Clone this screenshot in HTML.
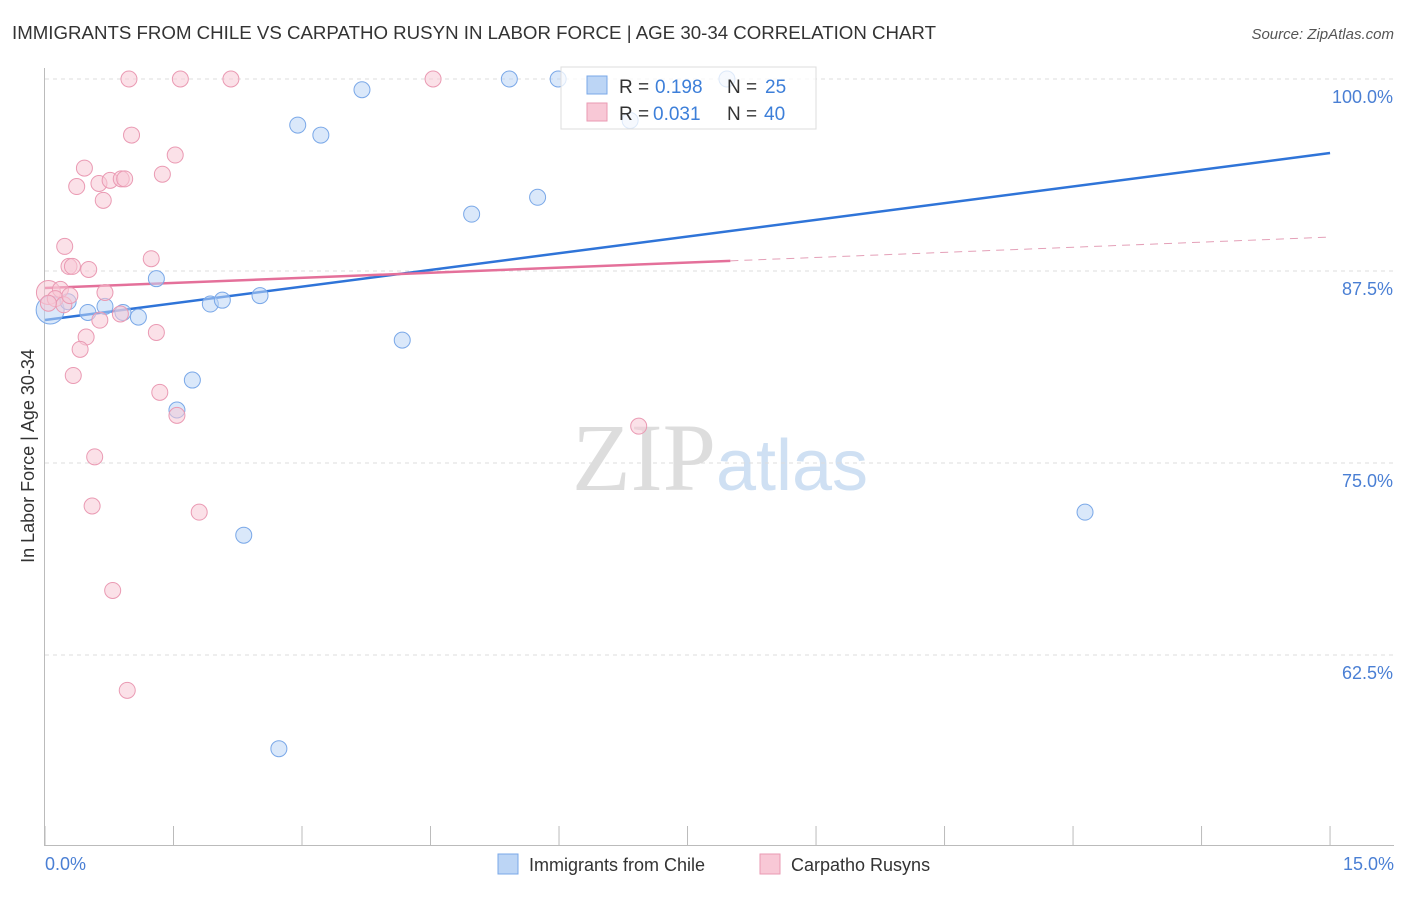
<!DOCTYPE html>
<html><head><meta charset="utf-8"><style>
body{margin:0;background:#fff;font-family:"Liberation Sans",sans-serif;}
svg text{font-family:"Liberation Sans",sans-serif;}
</style></head><body>
<svg id="chart" width="1406" height="892" xmlns="http://www.w3.org/2000/svg">
<text x="12" y="39" font-size="18" fill="#333" textLength="924" lengthAdjust="spacingAndGlyphs">IMMIGRANTS FROM CHILE VS CARPATHO RUSYN IN LABOR FORCE | AGE 30-34 CORRELATION CHART</text>
<text x="1394" y="39" font-size="15" fill="#555" text-anchor="end" font-style="italic">Source: ZipAtlas.com</text>
<text x="720" y="490" font-size="96" text-anchor="middle"><tspan fill="#ddd" font-family="Liberation Serif">ZIP</tspan><tspan fill="#cfe0f3" font-size="72">atlas</tspan></text>
<g id="grid"></g><g id="axes"></g><g id="lines"></g><g id="pts"></g>
<text transform="translate(34,456) rotate(-90)" font-size="18" fill="#333" text-anchor="middle">In Labor Force | Age 30-34</text>
<text x="45" y="870" font-size="18" fill="#4a7fd4">0.0%</text>
<text x="1394" y="870" font-size="18" fill="#4a7fd4" text-anchor="end">15.0%</text>
<g>
<rect x="561" y="67" width="255" height="62" fill="#fff" fill-opacity="0.75" stroke="#ddd"/>
<rect x="587" y="76" width="20" height="18" fill="#bcd5f5" stroke="#7aa8e8"/>
<rect x="587" y="103" width="20" height="18" fill="#f8c8d6" stroke="#ea9ab3"/>
<text x="619" y="93" font-size="19" fill="#333">R =</text><text x="655" y="93" font-size="19" fill="#3d7fd9">0.198</text>
<text x="727" y="93" font-size="19" fill="#333">N =</text><text x="765" y="93" font-size="19" fill="#3d7fd9">25</text>
<text x="619" y="120" font-size="19" fill="#333">R =</text><text x="653" y="120" font-size="19" fill="#3d7fd9">0.031</text>
<text x="727" y="120" font-size="19" fill="#333">N =</text><text x="764" y="120" font-size="19" fill="#3d7fd9">40</text>
</g>
<g>
<rect x="498" y="854" width="20" height="20" fill="#bcd5f5" stroke="#7aa8e8"/>
<text x="529" y="871" font-size="18" fill="#333">Immigrants from Chile</text>
<rect x="760" y="854" width="20" height="20" fill="#f8c8d6" stroke="#ea9ab3"/>
<text x="791" y="871" font-size="18" fill="#333">Carpatho Rusyns</text>
</g>
</svg>
<script>
const yTicks=[100,87.5,75,62.5];
const yTickLabels=["100.0%","87.5%","75.0%","62.5%"];
const xTicks=[0,1.5,3,4.5,6,7.5,9,10.5,12,13.5,15];
const chileX=[0.06,0.27,0.5,0.7,0.91,1.09,1.3,1.72,1.54,1.93,2.07,2.51,2.32,2.73,2.95,3.22,3.7,4.17,4.98,5.42,5.75,5.99,6.83,7.96,12.14];
const chileY=[84.96,85.5,84.8,85.2,84.8,84.5,87.0,80.4,78.45,85.35,85.6,85.9,70.3,56.4,97.0,96.35,99.3,83.0,91.2,100,92.3,100,97.3,100,71.8];
const rusynX=[0.98,1.58,2.17,4.53,1.01,1.52,0.46,1.37,0.37,0.63,0.76,0.89,0.93,0.68,0.23,0.28,0.32,0.51,1.24,0.04,0.18,0.12,0.22,0.70,0.88,0.64,0.48,1.30,0.41,0.33,1.34,1.54,0.58,6.93,0.55,1.80,0.79,0.96,0.04,0.29];
const rusynY=[100,100,100,100,96.35,95.05,94.2,93.8,93.0,93.2,93.4,93.5,93.5,92.1,89.1,87.8,87.8,87.6,88.3,86.1,86.3,85.7,85.3,86.1,84.7,84.3,83.2,83.5,82.4,80.7,79.6,78.1,75.4,77.4,72.2,71.8,66.7,60.2,85.4,85.9];
const chileTrend=[84.31,95.18];
const rusynTrend=[86.39,89.71];
const rusynSolidEnd=8;
const X=v=>45+v*85.67, Y=v=>79+(100-v)*15.36;
const ns="http://www.w3.org/2000/svg";
function mk(p,t,a){const e=document.createElementNS(ns,t);for(const k in a)e.setAttribute(k,a[k]);document.getElementById(p).appendChild(e);return e;}
yTicks.forEach((v,i)=>{
 const g=mk('grid','line',{x1:45,x2:1394,y1:Y(v),y2:Y(v),stroke:'#ddd','stroke-dasharray':'4,4'});
 
 
 const t=mk('grid','text',{x:1393,y:Y(v)+24,'font-size':18,fill:'#4a7fd4','text-anchor':'end'});
 t.textContent=yTickLabels[i];
 
 
});
const ya=mk('axes','line',{x1:44.5,x2:44.5,y1:68,y2:845,stroke:'#bbb'});


const xa=mk('axes','line',{x1:44,x2:1394,y1:845.5,y2:845.5,stroke:'#bbb'});


xTicks.forEach(v=>{const t=mk('axes','line',{x1:X(v),x2:X(v),y1:826,y2:845,stroke:'#bbb'});
 
 });
chileX.forEach((x,i)=>{const c=mk('pts','circle',{cx:X(x),cy:Y(chileY[i]),r:i==0?14:8,fill:'#bcd5f5','fill-opacity':0.55,stroke:'#7aa8e8','stroke-width':1});
 
 });
rusynX.forEach((x,i)=>{const c=mk('pts','circle',{cx:X(x),cy:Y(rusynY[i]),r:i==19?12:8,fill:'#f8c8d6','fill-opacity':0.55,stroke:'#ea9ab3','stroke-width':1});
 
 });
const bl=mk('lines','line',{x1:X(0),y1:Y(chileTrend[0]),x2:X(15),y2:Y(chileTrend[1]),stroke:'#2f74d8','stroke-width':2.5});


const ym=rusynTrend[0]+(rusynTrend[1]-rusynTrend[0])*rusynSolidEnd/15;
const pl=mk('lines','line',{x1:X(0),y1:Y(rusynTrend[0]),x2:X(rusynSolidEnd),y2:Y(ym),stroke:'#e4709a','stroke-width':2.5});


const pd=mk('lines','line',{x1:X(rusynSolidEnd),y1:Y(ym),x2:X(15),y2:Y(rusynTrend[1]),stroke:'#e4a0b8','stroke-width':1,'stroke-dasharray':'8,6'});


</script>
</body></html>
